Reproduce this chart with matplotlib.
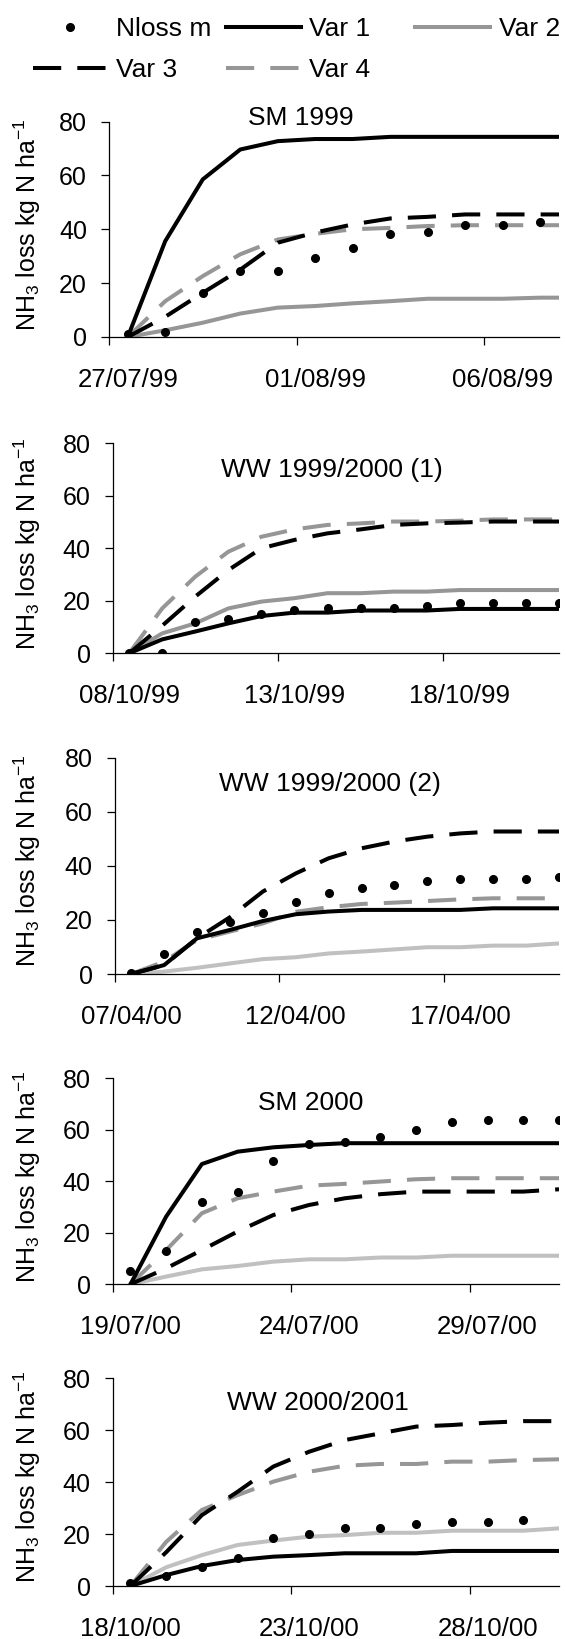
import matplotlib
matplotlib.use("Agg")
import matplotlib.pyplot as plt
from matplotlib.lines import Line2D

plt.rcParams['font.family'] = ['Liberation Sans', 'DejaVu Sans']
plt.rcParams['mathtext.fontset'] = 'custom'
plt.rcParams['mathtext.rm'] = 'Liberation Sans'
plt.rcParams['mathtext.it'] = 'Liberation Sans:italic'
plt.rcParams['mathtext.bf'] = 'Liberation Sans:bold'
plt.rcParams['xtick.major.pad'] = 22
plt.rcParams['xtick.major.size'] = 0
plt.rcParams['xtick.minor.size'] = 5.8
plt.rcParams['xtick.minor.width'] = 0.9
plt.rcParams['xtick.direction'] = 'out'
plt.rcParams['ytick.major.pad'] = 10
plt.rcParams['ytick.major.size'] = 5.8
plt.rcParams['ytick.major.width'] = 0.9

# ---------------- data ----------------
titles = ["SM 1999", "WW 1999/2000 (1)", "WW 1999/2000 (2)", "SM 2000", "WW 2000/2001"]
date_labels = [
    ["27/07/99", "01/08/99", "06/08/99"],
    ["08/10/99", "13/10/99", "18/10/99"],
    ["07/04/00", "12/04/00", "17/04/00"],
    ["19/07/00", "24/07/00", "29/07/00"],
    ["18/10/00", "23/10/00", "28/10/00"],
]
series_names = ["Nloss m", "Var 1", "Var 2", "Var 3", "Var 4"]

nloss_sm99 = [1.2, 2.0, 16.4, 24.5, 24.5, 29.2, 32.9, 38.3, 39.0, 41.4, 41.4, 42.8]
var1_sm99 = [0, 35.6, 58.5, 69.6, 72.7, 73.5, 73.5, 74.3, 74.3, 74.3, 74.3, 74.3, 74.3]
var2_sm99 = [0, 2.5, 5.3, 8.7, 10.9, 11.5, 12.5, 13.3, 14.2, 14.2, 14.2, 14.6, 14.6]
var3_sm99 = [0, 7.5, 16.4, 25.0, 35.0, 38.8, 41.8, 44.0, 44.6, 45.5, 45.5, 45.5, 45.5]
var4_sm99 = [0, 13.3, 22.6, 30.7, 36.2, 38.3, 40.0, 40.5, 41.2, 41.5, 41.5, 41.5, 41.5]

nloss_ww1 = [0.2, 0.2, 11.8, 13.0, 15.0, 16.5, 17.4, 17.4, 17.4, 18.2, 19.0, 19.0, 19.0, 19.0]
var1_ww1 = [0, 5.3, 8.3, 11.4, 14.2, 15.5, 15.5, 16.3, 16.3, 16.3, 16.9, 16.9, 16.9, 16.9]
var2_ww1 = [0, 7.6, 11.4, 17.1, 19.7, 21.0, 22.9, 22.9, 23.5, 23.5, 24.1, 24.1, 24.1, 24.1]
var3_ww1 = [0, 10.5, 21.6, 31.7, 40.0, 43.2, 45.7, 47.2, 48.9, 49.5, 49.8, 50.2, 50.2, 50.2]
var4_ww1 = [0, 17.1, 29.2, 38.7, 44.4, 47.2, 48.9, 49.5, 50.2, 50.2, 50.5, 51.0, 51.0, 51.0]

nloss_ww2 = [0.2, 7.3, 15.4, 19.1, 22.4, 26.8, 29.8, 31.9, 32.9, 34.4, 35.0, 35.0, 35.0, 36.0]
var1_ww2 = [0, 3.3, 13.2, 16.3, 19.6, 22.1, 23.1, 23.7, 23.7, 23.7, 23.7, 24.3, 24.3, 24.3]
var2_ww2 = [0, 0.9, 2.3, 3.9, 5.5, 6.2, 7.6, 8.3, 9.1, 9.9, 9.9, 10.5, 10.5, 11.3]
var3_ww2 = [0, 3.3, 13.2, 21.0, 30.5, 37.2, 42.8, 46.5, 49.0, 50.8, 52.0, 52.7, 52.7, 52.7]
var4_ww2 = [0, 4.6, 12.6, 15.7, 18.7, 23.0, 24.7, 25.9, 26.4, 27.0, 27.6, 28.0, 28.0, 28.0]

nloss_sm00 = [5.2, 13.1, 32.1, 36.0, 47.9, 54.4, 55.1, 57.3, 59.9, 63.2, 63.8, 63.8, 63.8]
var1_sm00 = [0, 26.3, 46.7, 51.5, 53.2, 54.1, 54.8, 54.8, 54.8, 54.8, 54.8, 54.8, 54.8]
var2_sm00 = [0, 3.0, 5.8, 7.1, 8.8, 9.7, 9.7, 10.4, 10.4, 11.1, 11.1, 11.1, 11.1]
var3_sm00 = [0, 6.2, 13.3, 20.5, 26.9, 30.8, 33.4, 35.0, 36.0, 36.0, 36.0, 36.0, 36.9]
var4_sm00 = [0, 13.3, 27.6, 33.4, 36.0, 38.3, 39.0, 39.9, 40.8, 41.2, 41.2, 41.2, 41.2]

nloss_ww3 = [1.0, 4.0, 7.4, 10.7, 18.4, 20.0, 22.2, 22.2, 23.9, 24.5, 24.5, 25.4]
var1_ww3 = [0, 4.2, 7.7, 10.0, 11.3, 11.9, 12.6, 12.6, 12.6, 13.5, 13.5, 13.5, 13.5]
var2_ww3 = [0, 7.2, 11.9, 15.8, 17.5, 19.0, 19.6, 20.5, 20.5, 21.3, 21.3, 21.3, 22.2]
var3_ww3 = [0, 13.0, 27.3, 36.3, 46.0, 51.7, 56.2, 58.8, 61.4, 62.0, 62.9, 63.5, 63.5]
var4_ww3 = [0, 17.0, 29.3, 35.0, 40.2, 44.0, 46.3, 47.0, 47.0, 47.9, 47.9, 48.5, 48.8]

panels = [
    (nloss_sm99, var1_sm99, var2_sm99, var3_sm99, var4_sm99),
    (nloss_ww1, var1_ww1, var2_ww1, var3_ww1, var4_ww1),
    (nloss_ww2, var1_ww2, var2_ww2, var3_ww2, var4_ww2),
    (nloss_sm00, var1_sm00, var2_sm00, var3_sm00, var4_sm00),
    (nloss_ww3, var1_ww3, var2_ww3, var3_ww3, var4_ww3),
]

# ---------------- layout (pixels) ----------------
W, H = 566, 1639
DPI = 100
# left, top, bottom (px), xlim right
geom = [
    (109.0, 121.5, 337.0, 11.5),
    (112.6, 443.3, 653.3, 13.0),
    (114.8, 757.7, 974.0, 13.0),
    (112.6, 1078.3, 1284.3, 12.0),
    (112.6, 1378.3, 1586.0, 12.0),
]
RIGHT = 559.0
title_pos = [(300.5, 125), (331.5, 476.5), (330, 790.5), (310.6, 1110), (317.7, 1410)]
var2_colors = ['#969696', '#969696', '#c0c0c0', '#c0c0c0', '#c0c0c0']

FS = 19
FS_TICK = 18
FS_YLAB = 18
LW = 2.9
DASH = (7, 4)
GREY = '#969696'

fig = plt.figure(figsize=(W / DPI, H / DPI), dpi=DPI)

first_handles = None
for i, (data, (l, t, b, xr)) in enumerate(zip(panels, geom)):
    ax = fig.add_axes([l / W, 1 - b / H, (RIGHT - l) / W, (b - t) / H])
    nloss, v1, v2, v3, v4 = data
    h2, = ax.plot(range(len(v2)), v2, color=var2_colors[i], lw=LW, solid_joinstyle='round', zorder=2)
    h4, = ax.plot(range(len(v4)), v4, color=GREY, lw=LW, dashes=DASH, dash_capstyle='butt', zorder=3)
    h3, = ax.plot(range(len(v3)), v3, color='black', lw=LW, dashes=DASH, dash_capstyle='butt', zorder=4)
    h1, = ax.plot(range(len(v1)), v1, color='black', lw=LW, solid_joinstyle='round', zorder=5)
    h0, = ax.plot(range(len(nloss)), nloss, linestyle='none', marker='o', ms=5.5,
                  color='black', zorder=6)
    if i == 0:
        first_handles = [h0, h1, Line2D([], [], color=GREY, lw=LW), h3, h4]

    ax.set_xlim(-0.5, xr)
    ax.set_ylim(0, 80)
    ax.spines['top'].set_visible(False)
    ax.spines['right'].set_visible(False)
    ax.spines['left'].set_linewidth(0.9)
    ax.spines['bottom'].set_linewidth(0.9)
    ax.set_yticks([0, 20, 40, 60, 80])
    ax.tick_params(axis='y', labelsize=FS_TICK)
    # labels at category centres (major, no mark), marks between categories (minor)
    ax.set_xticks([0, 5, 10])
    ax.set_xticklabels(date_labels[i], fontsize=FS_TICK + 0.6)
    ax.set_xticks([-0.5, 4.5, 9.5], minor=True)
    ax.xaxis.set_tick_params(which='major', pad=22, length=0)

    tx, ty = title_pos[i]
    fig.text(tx / W, 1 - ty / H, titles[i], ha='center', va='baseline', fontsize=FS)
    fig.text(27 / W, 1 - ((t + b) / 2 - 5) / H, r'NH$_\mathregular{3}$ loss kg N ha$^{\mathregular{-1}}$',
             rotation=90, ha='center', va='center', fontsize=FS_YLAB)

# legend: one entry per anchored legend to reproduce the grid layout
leg_pos = [(32.5, 29), (225.6, 29), (415, 29), (32.5, 70), (225.6, 70)]
for h, name, (lx, ly) in zip(first_handles, series_names, leg_pos):
    fig.legend(handles=[h], labels=[name], loc='center left',
               bbox_to_anchor=(lx / W, 1 - ly / H), frameon=False, fontsize=FS,
               handlelength=2.85, handletextpad=0.32, borderpad=0, borderaxespad=0,
               numpoints=1)

fig.savefig('out.png', dpi=DPI)
